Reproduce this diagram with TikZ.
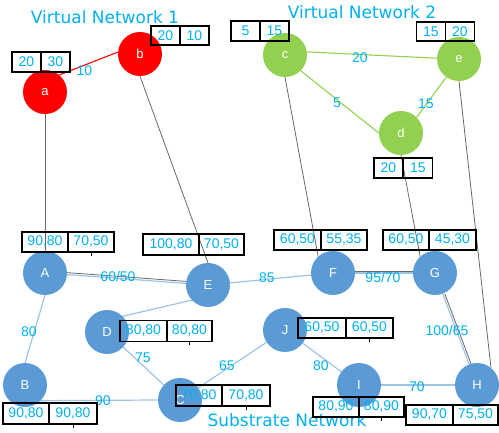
\documentclass[tikz,border=0pt]{standalone}
\usepackage{fontspec}
\setmainfont{Liberation Sans}
\newfontfamily\titlefont{DejaVu Sans}
\definecolor{txtblue}{RGB}{0,176,240}
\definecolor{subblue}{RGB}{91,155,213}
\definecolor{linkblue}{RGB}{157,195,230}
\definecolor{vgreen}{RGB}{146,208,80}
\definecolor{vred}{RGB}{255,0,0}
\definecolor{mapgray}{RGB}{105,105,105}
\pgfdeclarelayer{bg}
\pgfsetlayers{bg,main}
\begin{document}
\begin{tikzpicture}[x=1pt,y=-1pt,
  net/.style={circle, minimum size=44pt, inner sep=0pt, text=white,
    font=\fontsize{13}{13}\selectfont},
  subnode/.style={net, fill=subblue},
  greennode/.style={net, fill=vgreen},
  rednode/.style={net, fill=vred},
  cell/.style={draw=black, line width=1.1pt, inner sep=0pt, text=txtblue,
    minimum height=20pt, font=\fontsize{14}{14}\selectfont},
  lab/.style={text=txtblue, inner sep=0pt, font=\fontsize{14}{14}\selectfont},
  title/.style={text=txtblue, inner sep=0pt, font=\titlefont\fontsize{17}{17}\selectfont},
  sublink/.style={draw=linkblue, line width=1.2pt},
  maplink/.style={draw=mapgray, line width=0.8pt},
  greenlink/.style={draw=vgreen, line width=1.1pt},
  redlink/.style={draw=vred, line width=1.1pt},
  tick/.style={draw=black, line width=1pt}
]
\useasboundingbox (0,0) rectangle (499,433);

% titles
\node[title] (t1) at (105,17) {Virtual Network 1};
\node[title] (t2) at (362,12) {Virtual Network 2};
\node[title] (t3) at (287,420) {Substrate Network};

% virtual network 1
\node[rednode] (a) at (45,92) {a};
\node[rednode] (b) at (140,54) {b};
% virtual network 2
\node[greennode] (c) at (285,55) {c};
\node[greennode] (e) at (459,59) {e};
\node[greennode] (d) at (401,133) {d};
% substrate network
\node[subnode] (A) at (45,273) {A};
\node[subnode] (E) at (208,285) {E};
\node[subnode] (F) at (333,273) {F};
\node[subnode] (G) at (435,273) {G};
\node[subnode] (D) at (107,332) {D};
\node[subnode] (J) at (285,330) {J};
\node[subnode] (B) at (25,385) {B};
\node[subnode] (C) at (180,400) {C};
\node[subnode] (I) at (359,385) {I};
\node[subnode] (H) at (477,385) {H};

\begin{pgfonlayer}{bg}
  % virtual links
  \draw[redlink] (a.50) -- (b.175);
  \draw[greenlink] (c.8) -- (e.178);
  \draw[greenlink] (c.315) -- (d.180);
  \draw[greenlink] (e.235) -- (d.45);
  % mapping of virtual nodes onto substrate nodes
  \draw[maplink] (a.south) -- (A.north);
  \draw[maplink] (b.south) -- (E.north);
  \draw[maplink] (c.south) -- (F.132);
  \draw[maplink] (d.south) -- (G.132);
  \draw[maplink] (e.south) -- (H.51);
  % substrate links
  \draw[sublink] (A) -- (E);
  \draw[maplink, transform canvas={yshift=2pt}] (A) -- (E);
  \draw[sublink] (E) -- (F);
  \draw[sublink] (F) -- (G);
  \draw[maplink, transform canvas={yshift=2pt}] (F) -- (G);
  \draw[sublink] (G) -- (H);
  \draw[maplink, transform canvas={xshift=2pt}] (G) -- (H);
  \draw[sublink] (A.south) -- (B.north);
  \draw[sublink] (D.45) -- (E.223);
  \draw[sublink] (D) -- (C);
  \draw[sublink] (B.315) -- (C.west);
  \draw[sublink] (C) -- (J);
  \draw[sublink] (J) -- (I);
  \draw[sublink] (I) -- (H);
\end{pgfonlayer}

% link labels
\node[lab] (l1) at (84.5,71) {10};
\node[lab] (l2) at (360,58) {20};
\node[lab] (l3) at (337,103) {5};
\node[lab] (l4) at (426,104) {15};
\node[lab] (l5) at (118,276) {60/50};
\node[lab] (l6) at (267,278) {85};
\node[lab] (l7) at (383,277) {95/70};
\node[lab] (l8) at (447,330) {100/65};
\node[lab] (l9) at (29,332) {80};
\node[lab] (l10) at (143,358) {75};
\node[lab] (l11) at (103,401) {90};
\node[lab] (l12) at (227,366) {65};
\node[lab] (l13) at (321,366) {80};
\node[lab] (l14) at (417,387) {70};

% resource boxes
\node[cell, minimum width=29pt] (a1) at (26.5,62) {20};
\node[cell, minimum width=29pt] (a2) at (55.5,62) {30};
\node[cell, minimum width=29pt, minimum height=19pt] (b1) at (165.5,35.5) {20};
\node[cell, minimum width=29pt, minimum height=19pt] (b2) at (194.5,35.5) {10};
\node[cell, minimum width=29pt] (c1) at (245.5,31) {5};
\node[cell, minimum width=29pt] (c2) at (274.5,31) {15};
\node[cell, minimum width=29pt, minimum height=19pt] (e1) at (431,31.5) {15};
\node[cell, minimum width=29pt, minimum height=19pt] (e2) at (460,31.5) {20};
\node[cell, minimum width=29pt] (d1) at (388.5,168) {20};
\node[cell, minimum width=29pt] (d2) at (418,168) {15};

\node[cell, minimum width=46pt] (A1) at (45,242) {90,80};
\node[cell, minimum width=46pt] (A2) at (91,242) {70,50};
\node[cell, minimum width=56pt, minimum height=21pt] (E1) at (171,244.5) {100,80};
\node[cell, minimum width=45pt, minimum height=21pt] (E2) at (221.5,244.5) {70,50};
\node[cell, minimum width=47pt] (F1) at (297.5,240) {60,50};
\node[cell, minimum width=46pt] (F2) at (344,240) {55,35};
\node[cell, minimum width=46pt] (G1) at (406,240) {60,50};
\node[cell, minimum width=47pt] (G2) at (452.5,240) {45,30};
\node[cell, minimum width=48pt] (J1) at (322,328) {60,50};
\node[cell, minimum width=47pt] (J2) at (369.5,328) {60,50};
\node[cell, minimum width=47pt, minimum height=21pt] (D1) at (143.5,331) {80,80};
\node[cell, minimum width=45pt, minimum height=21pt] (D2) at (189.5,331) {80,80};
\node[cell, minimum width=46pt, minimum height=21pt] (B1) at (26,413.5) {90,80};
\node[cell, minimum width=48pt, minimum height=21pt] (B2) at (73,413.5) {90,80};
\node[cell, minimum width=46pt, minimum height=21pt] (C1) at (199,395.5) {70,80};
\node[cell, minimum width=48pt, minimum height=21pt] (C2) at (246,395.5) {70,80};
\node[cell, minimum width=46pt] (I1) at (336,407) {80,90};
\node[cell, minimum width=45pt] (I2) at (381.5,407) {80,90};
\node[cell, minimum width=47pt] (H1) at (429.5,415) {90,70};
\node[cell, minimum width=45pt] (H2) at (475.5,415) {75,50};

% small marks under some boxes
\draw[tick] (A2.south) -- ++(0,3);
\draw[tick] (D2.south) -- ++(0,3);
\draw[tick] (B2.south) -- ++(0,3);
\draw[tick] (C2.south) -- ++(0,3);
\draw[tick] (J2.south) -- ++(0,3);
\draw[tick] (I2.south) -- ++(0,3);
\end{tikzpicture}
\end{document}
